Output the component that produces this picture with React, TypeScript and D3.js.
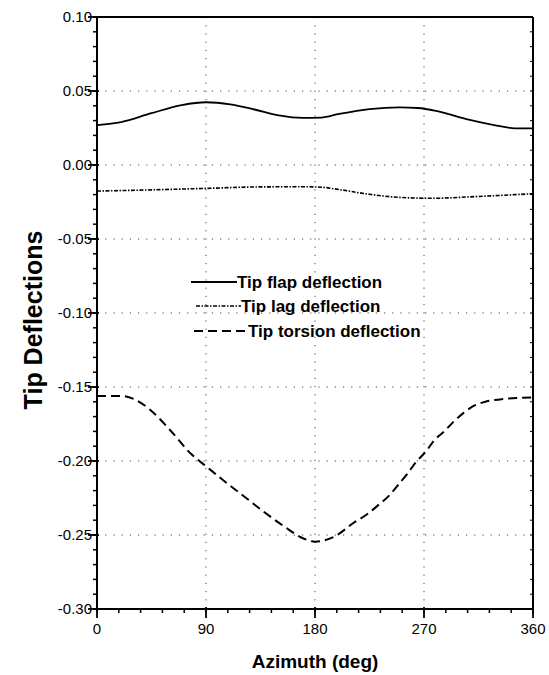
import React from "react";
import * as d3 from "d3";

const flapAz = [0, 20, 45, 70, 90, 110, 130, 150, 170, 185, 200, 225, 250, 265, 280, 305, 328, 345, 360];
const flapVal = [0.027, 0.029, 0.035, 0.0405, 0.0424, 0.041, 0.0375, 0.0335, 0.0318, 0.032, 0.0345, 0.0378, 0.039, 0.0385, 0.0365, 0.031, 0.027, 0.0248, 0.0248];

const lagAz = [0, 45, 90, 135, 170, 185, 200, 225, 250, 278, 306, 334, 360];
const lagVal = [-0.0176, -0.0168, -0.0158, -0.0148, -0.0147, -0.015, -0.0166, -0.0198, -0.0219, -0.0225, -0.0216, -0.0205, -0.0194];

const torAz = [0, 20, 31, 45, 61, 78, 90, 105, 121, 138, 154, 171, 180, 196, 212, 223, 233, 241, 249, 257, 263, 272, 278, 287, 295, 303, 311, 320, 334, 360];
const torVal = [-0.156, -0.156, -0.1583, -0.1662, -0.1797, -0.1955, -0.2035, -0.2135, -0.2236, -0.2345, -0.2439, -0.2525, -0.2545, -0.2511, -0.2417, -0.236, -0.2293, -0.2236, -0.2158, -0.2079, -0.2011, -0.1932, -0.1865, -0.1797, -0.173, -0.1673, -0.1628, -0.1601, -0.1583, -0.157];

const xTicks = [0, 90, 180, 270, 360];
const yTicks = [0.1, 0.05, 0.0, -0.05, -0.1, -0.15, -0.2, -0.25, -0.3];
const seriesNames = ["Tip flap deflection", "Tip lag deflection", "Tip torsion deflection"];

const W = 549, H = 675;
const L = 97, R = 533, T = 17, B = 609;

export default function App() {
  const x = d3.scaleLinear().domain([0, 360]).range([L, R]);
  const y = d3.scaleLinear().domain([-0.3, 0.1]).range([B, T]);
  const line = d3.line<[number, number]>().x(d => x(d[0])).y(d => y(d[1])).curve(d3.curveMonotoneX);
  const flap = line(flapAz.map((a, i) => [a, flapVal[i]]))!;
  const lag = line(lagAz.map((a, i) => [a, lagVal[i]]))!;
  const tor = line(torAz.map((a, i) => [a, torVal[i]]))!;

  const xMinor = d3.range(0, 361, 18);
  const yMinor = d3.range(-0.3, 0.1001, 0.01);
  const font = "'Liberation Sans', Arial, sans-serif";
  const styles = [
    { dash: undefined, w: 1.8 },
    { dash: "4 1.5 1.5 1.5", w: 1.6 },
    { dash: "9 5", w: 2 },
  ];
  const legendRows = [
    { y: 282, x1: 191, x2: 237 },
    { y: 306, x1: 196, x2: 241 },
    { y: 331, x1: 194, x2: 248 },
  ];

  return (
    <svg width={W} height={H} style={{ position: "absolute", left: 0, top: 0, background: "#fff" }} fontFamily={font}>
      {/* grid */}
      <g stroke="#444" strokeWidth={1} strokeDasharray="1.2 7">
        {yTicks.filter(v => v < 0.09 && v > -0.29).map(v => (
          <line key={"gy" + v} x1={L} x2={R} y1={y(v)} y2={y(v)} />
        ))}
        {xTicks.filter(v => v > 0 && v < 360).map(v => (
          <line key={"gx" + v} x1={x(v)} x2={x(v)} y1={T} y2={B} />
        ))}
      </g>
      {/* frame */}
      <g stroke="#000" fill="none">
        <line x1={L} x2={R} y1={T} y2={T} strokeWidth={2} />
        <line x1={R} x2={R} y1={T} y2={B} strokeWidth={2} />
        <line x1={L} x2={L} y1={T} y2={B} strokeWidth={2} />
        <line x1={L} x2={R} y1={B} y2={B} strokeWidth={2} />
        {yMinor.map((v, i) => (
          <line key={"ym" + i} x1={L - 4} x2={L} y1={y(v)} y2={y(v)} strokeWidth={1.5} />
        ))}
        {yMinor.map((v, i) => (
          <line key={"yr" + i} x1={R - 3} x2={R} y1={y(v)} y2={y(v)} strokeWidth={1} />
        ))}
        {yTicks.map(v => (
          <line key={"yM" + v} x1={L - 9} x2={L + 2} y1={y(v)} y2={y(v)} strokeWidth={1.8} />
        ))}
        {xMinor.map(v => (
          <line key={"xm" + v} x1={x(v)} x2={x(v)} y1={B} y2={B + 4} strokeWidth={1.5} />
        ))}
        {xTicks.map(v => (
          <line key={"xM" + v} x1={x(v)} x2={x(v)} y1={B - 2} y2={B + 9} strokeWidth={1.8} />
        ))}
      </g>
      {/* tick labels */}
      <g fontSize={15} fill="#000">
        {yTicks.map(v => (
          <text key={"yl" + v} x={L - 5} y={y(v) + 5} textAnchor="end">{v.toFixed(2)}</text>
        ))}
        {xTicks.map(v => (
          <text key={"xl" + v} x={x(v)} y={634} textAnchor="middle">{v}</text>
        ))}
      </g>
      {/* series */}
      {[flap, lag, tor].map((d, i) => (
        <path key={"s" + i} d={d} fill="none" stroke="#000" strokeWidth={styles[i].w} strokeDasharray={styles[i].dash} />
      ))}
      {/* legend */}
      {seriesNames.map((n, i) => (
        <g key={"lg" + i}>
          <line x1={legendRows[i].x1} x2={legendRows[i].x2} y1={legendRows[i].y} y2={legendRows[i].y} stroke="#000" strokeWidth={styles[i].w} strokeDasharray={styles[i].dash} />
          <text x={legendRows[i].x2} y={legendRows[i].y + 6} fontSize={17} fontWeight="bold">{n}</text>
        </g>
      ))}
      {/* axis titles */}
      <text x={(L + R) / 2} y={668} textAnchor="middle" fontSize={19} fontWeight="bold">Azimuth (deg)</text>
      <text transform={`translate(42, 320) rotate(-90)`} textAnchor="middle" fontSize={25} fontWeight="bold">Tip Deflections</text>
    </svg>
  );
}
